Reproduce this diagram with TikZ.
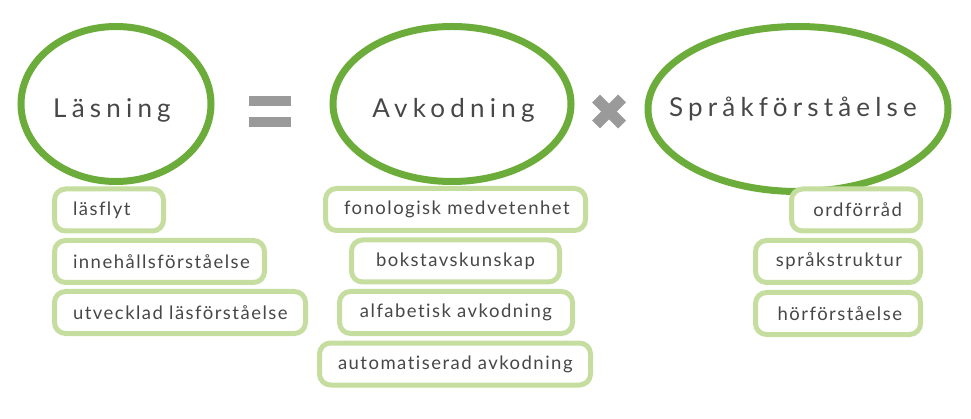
\documentclass[tikz,border=0pt]{standalone}
\usepackage{fontspec}
\setmainfont{Lato}
\newfontfamily\bigfont{Lato}[LetterSpace=20, Ligatures=NoCommon]
\newfontfamily\smallfont{Lato}[LetterSpace=8, Ligatures=NoCommon]
\definecolor{ringgreen}{HTML}{6CAC3B}
\definecolor{boxgreen}{HTML}{C5DEA0}
\definecolor{symgray}{HTML}{9A9A9A}
\definecolor{txt}{HTML}{474747}
\tikzset{
  bigtext/.style={anchor=base, text=txt, font=\bigfont\fontsize{26}{30}\selectfont, inner sep=0pt},
  itembox/.style={draw=boxgreen, line width=5pt, rounded corners=11pt, fill=white,
    minimum height=42pt, inner xsep=18.5pt, inner ysep=0pt, text=txt,
    font=\smallfont\fontsize{18.5}{22}\selectfont},
  leftbox/.style={itembox, align=left},
  midbox/.style={itembox, align=center},
  rightbox/.style={itembox, align=right},
}
\begin{document}
\begin{tikzpicture}[x=1pt,y=-1pt]
\useasboundingbox (0,0) rectangle (971,419);
% rings
\draw[ringgreen, line width=7pt] (116,104) ellipse [x radius=95, y radius=77.5];
\draw[ringgreen, line width=7pt] (452,104) ellipse [x radius=119, y radius=77.5];
\draw[ringgreen, line width=7pt] (798,109) ellipse [x radius=150, y radius=82.5];
\node[bigtext] (lasning) at (112,118) {Läsning};
\node[bigtext] (avkodning) at (453.5,118) {Avkodning};
\node[bigtext] (sprak) at (793,117) {Språkförståelse};
% operators
\fill[symgray] (249,96) rectangle (291,106);
\fill[symgray] (249,117) rectangle (291,127);
\draw[symgray, line width=11pt] (596,98.5) -- (622,124.5);
\draw[symgray, line width=11pt] (622,98.5) -- (596,124.5);
% left boxes
\node[leftbox, text width=72pt] (b1) at (109,210) {läsflyt};
\node[leftbox, text width=173pt] (b2) at (159.5,261.5) {innehållsförståelse};
\node[leftbox, text width=214pt] (b3) at (180,312.5) {utvecklad läsförståelse};
% middle boxes
\node[midbox, text width=223pt] (m1) at (455.5,209.5) {fonologisk medvetenhet};
\node[midbox, text width=171pt] (m2) at (455.5,261) {bokstavskunskap};
\node[midbox, text width=196pt] (m3) at (456,312.5) {alfabetisk avkodning};
\node[midbox, text width=234pt] (m4) at (455,364) {automatiserad avkodning};
% right boxes
\node[rightbox, text width=92pt] (r1) at (856,210) {ordförråd};
\node[rightbox, text width=128pt] (r2) at (838,261.5) {språkstruktur};
\node[rightbox, text width=128pt] (r3) at (838,313.5) {hörförståelse};
\end{tikzpicture}
\end{document}
